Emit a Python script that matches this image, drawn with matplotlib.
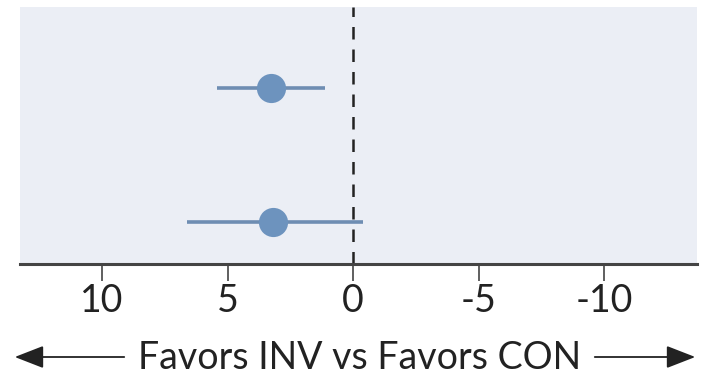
import matplotlib
matplotlib.use("Agg")
import matplotlib.pyplot as plt

# Mean difference (INV - CON) with 95% CI for two comparisons
rows = [2, 1]
estimates = [3.28, 3.19]
ci_low = [1.13, -0.40]
ci_high = [5.42, 6.61]

x_ticks = [10, 5, 0, -5, -10]
x_ticklabels = ["10", "5", "0", "-5", "-10"]
axis_label = "Favors INV vs Favors CON"

plt.rcParams["font.family"] = ["Lato", "DejaVu Sans"]

fig = plt.figure(figsize=(7.03, 3.78), dpi=100)
ax = fig.add_axes([20 / 703, 1 - 264 / 378, 677 / 703, 257 / 378])
ax.set_facecolor("#EBEEF5")

# zero reference line
ax.axvline(0, color="#222222", lw=1.8, dashes=(5, 4), zorder=1)

for y, est, lo, hi in zip(rows, estimates, ci_low, ci_high):
    ax.plot([lo, hi], [y, y], color="#6E8DB2", lw=2.6, solid_capstyle="butt", zorder=2)
    ax.plot([est], [y], marker="o", ms=21, color="#6D93BE", mec="none", zorder=3)

ax.set_xlim(13.27, -13.69)
ax.set_ylim(0.687, 2.604)
ax.set_yticks([])
ax.set_xticks(x_ticks)
ax.set_xticklabels(x_ticklabels, fontsize=27, color="#222222")
ax.tick_params(axis="x", length=12, width=1.2, color="#444444", pad=2)

for side in ("top", "right", "left"):
    ax.spines[side].set_visible(False)
ax.spines["bottom"].set_color("#444444")
ax.spines["bottom"].set_linewidth(2.2)

# direction label with arrows on both sides
fig.text(360 / 703, 1 - 358 / 378, axis_label, ha="center", va="center",
         fontsize=27, color="#222222")
fig.add_artist(matplotlib.patches.FancyArrowPatch(
    (127 / 703, 1 - 357 / 378), (12 / 703, 1 - 357 / 378),
    transform=fig.transFigure, arrowstyle="-|>,head_length=0.9,head_width=0.35",
    mutation_scale=20, lw=1.3, color="#222222"))
fig.add_artist(matplotlib.patches.FancyArrowPatch(
    (592 / 703, 1 - 357 / 378), (698 / 703, 1 - 357 / 378),
    transform=fig.transFigure, arrowstyle="-|>,head_length=0.9,head_width=0.35",
    mutation_scale=20, lw=1.3, color="#222222"))

fig.savefig("out.png", dpi=100)
